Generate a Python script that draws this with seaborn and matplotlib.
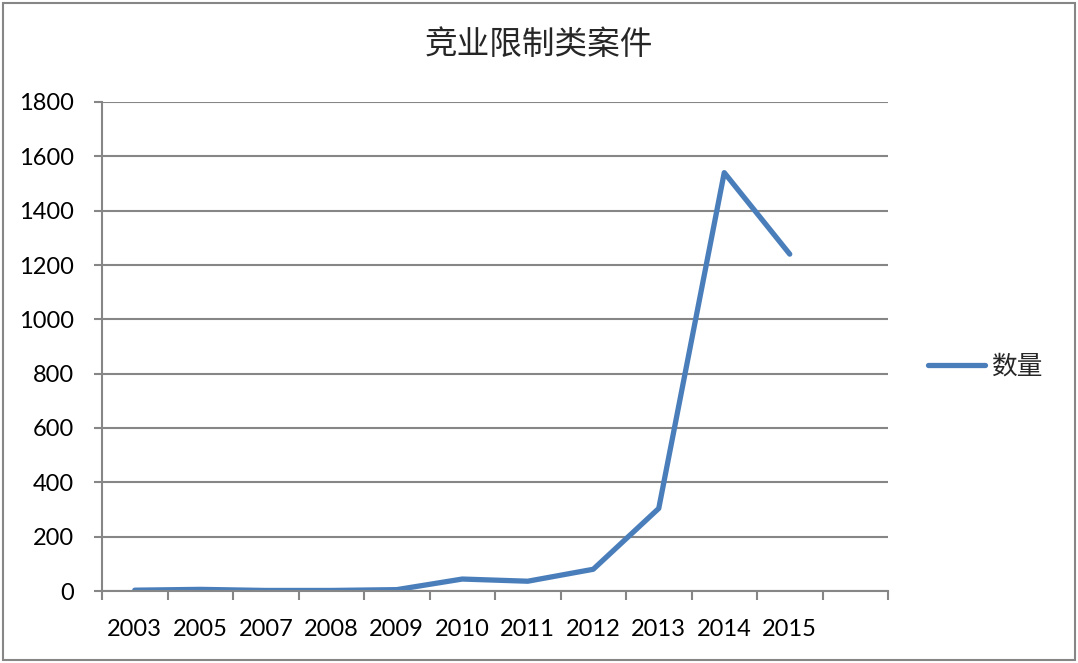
import matplotlib
matplotlib.use("Agg")
import matplotlib.pyplot as plt
import pandas as pd
import seaborn as sns
from matplotlib.patches import Rectangle
from matplotlib.ticker import FixedLocator, MultipleLocator

years = ["2003", "2005", "2007", "2008", "2009", "2010",
         "2011", "2012", "2013", "2014", "2015"]
counts = [3, 6, 2, 2, 5, 44, 36, 80, 304, 1540, 1240]
series_name = "数量"
title = "竞业限制类案件"

sns.set_style("white")
plt.rcParams['font.family'] = ['Lato', 'Noto Sans CJK SC', 'DejaVu Sans']

GREY = "#868686"
BLUE = "#4a7ebb"

df = pd.DataFrame({"year": years, series_name: counts})

fig = plt.figure(figsize=(10.78, 6.63), dpi=100)
ax = fig.add_axes([102 / 1078, 1 - 591 / 663, (888 - 102) / 1078, (591 - 102) / 663])

sns.lineplot(data=df, x="year", y=series_name, ax=ax, color=BLUE,
             linewidth=3.8, label=series_name, solid_capstyle="round",
             solid_joinstyle="round", sort=False)

ax.set_xlim(-0.5, 11.5)
ax.set_ylim(0, 1800)
ax.yaxis.set_major_locator(MultipleLocator(200))
ax.grid(axis="y", color=GREY, linewidth=1.5)
ax.set_axisbelow(True)

ax.set_xticks(range(len(years)))
ax.set_xticklabels(years)
ax.xaxis.set_minor_locator(FixedLocator([i - 0.5 for i in range(13)]))
ax.tick_params(axis="x", which="major", length=0, pad=20, labelsize=17, colors="black")
ax.tick_params(axis="x", which="minor", length=6.5, width=1.5, color=GREY, bottom=True)
ax.tick_params(axis="y", length=6, width=1.5, color=GREY, pad=14, labelsize=17,
               left=True, labelcolor="black")

ax.set_xlabel("")
ax.set_ylabel("")
for side in ("top", "right"):
    ax.spines[side].set_visible(False)
for side in ("left", "bottom"):
    ax.spines[side].set_color(GREY)
    ax.spines[side].set_linewidth(1.5)

ax.legend(loc="center left", bbox_to_anchor=(928 / 1078, 1 - 366 / 663),
          bbox_transform=fig.transFigure, frameon=False, fontsize=18.5,
          handlelength=2.2, handletextpad=0.25, borderpad=0, borderaxespad=0)

fig.text(0.5, 1 - 45 / 663, title, ha="center", va="center", fontsize=23.5,
         family=['Noto Sans CJK SC'])

fig.patches.append(Rectangle((3 / 1078, 3 / 663), 1072 / 1078, 657 / 663,
                             transform=fig.transFigure, fill=False,
                             edgecolor=GREY, linewidth=1.5))

fig.savefig("out.png", dpi=100)
